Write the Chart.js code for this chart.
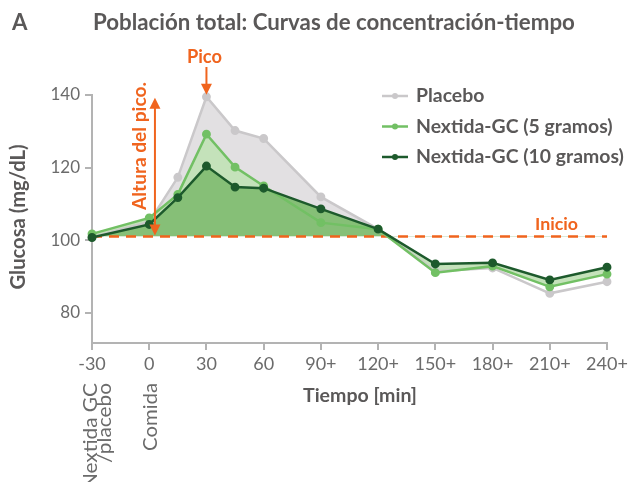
<!DOCTYPE html>
<html>
<head>
<meta charset="utf-8">
<script src="https://cdn.jsdelivr.net/npm/chart.js@4.4.0/dist/chart.umd.min.js"></script>
<style>
  html, body { margin: 0; padding: 0; background: #fff; }
</style>
</head>
<body>
<canvas id="glucosaChart" width="635" height="482"></canvas>
<script>
// === Datos ===
const tiempos = [-30, 0, 15, 30, 45, 60, 90, 120, 150, 180, 210, 240];
const placebo = [100.8, 105.0, 117.3, 139.5, 130.2, 128.0, 111.9, 103.0, 91.4, 92.3, 85.3, 88.5];
const gc5     = [101.7, 106.1, 112.6, 129.2, 120.1, 114.9, 104.8, 103.0, 91.0, 92.8, 87.1, 90.6];
const gc10    = [100.7, 104.3, 111.7, 120.4, 114.6, 114.3, 108.6, 103.0, 93.4, 93.7, 89.0, 92.5];
const xTicks = [-30, 0, 30, 60, 90, 120, 150, 180, 210, 240];
const yTicks = [80, 100, 120, 140];
const inicio = 101;       // linea base "Inicio"
const picoX = 30, picoY = 139.5;
const alturaX = 3;        // flecha "Altura del pico."

const naranja = '#f0641e';
const gris = '#5a5858';
const grisClaro = '#6b6b6b';
const fuente = 'Lato, "Noto Sans", sans-serif';

const toXY = arr => tiempos.map((t, i) => ({ x: t, y: arr[i] }));

// tama√±o de letra para que el texto ocupe un ancho dado
function ajustar(ctx, s, ancho, peso) {
    ctx.font = peso + ' 100px ' + fuente;
    const size = 100 * ancho / ctx.measureText(s).width;
    ctx.font = peso + ' ' + size.toFixed(2) + 'px ' + fuente;
    return size;
}

// texto vertical; estira opcionalmente a lo largo
function girado(ctx, s, x, y, estira) {
    ctx.save();
    ctx.translate(x, y);
    ctx.rotate(-Math.PI / 2);
    if (estira) ctx.scale(estira, 1);
    ctx.fillText(s, 0, 0);
    ctx.restore();
}

// === Leyenda, titulos y anotaciones ===
const anotaciones = {
    id: 'anotaciones',
    beforeDatasetsDraw(chart) {
        const { ctx, scales: { x, y } } = chart;
        const yb = y.getPixelForValue(inicio);
        ctx.save();
        ctx.strokeStyle = naranja;
        ctx.lineWidth = 2.5;
        ctx.setLineDash([10, 7]);
        ctx.beginPath();
        ctx.moveTo(x.left, yb);
        ctx.lineTo(x.right, yb);
        ctx.stroke();
        ctx.restore();
    },
    afterDraw(chart) {
        const { ctx, scales: { x, y } } = chart;
        ctx.save();
        ctx.textBaseline = 'middle';

        // titulo
        ctx.fillStyle = gris;
        ctx.textAlign = 'left';
        ajustar(ctx, 'Población total: Curvas de concentración-tiempo', 482, 'bold');
        ctx.fillText('A', 12, 23);
        ctx.fillText('Población total: Curvas de concentración-tiempo', 93, 23);

        // leyenda
        const items = [
            ['Placebo', '#cac8ca'],
            ['Nextida-GC (5 gramos)', '#72c064'],
            ['Nextida-GC (10 gramos)', '#1d5a2c']
        ];
        ajustar(ctx, items[2][0], 208, 'bold');
        items.forEach((it, i) => {
            const ly = 96 + i * 30.5;
            ctx.strokeStyle = it[1];
            ctx.fillStyle = it[1];
            ctx.lineWidth = 2.5;
            ctx.beginPath();
            ctx.moveTo(382, ly);
            ctx.lineTo(408, ly);
            ctx.stroke();
            ctx.beginPath();
            ctx.arc(395, ly, 3, 0, Math.PI * 2);
            ctx.fill();
            ctx.fillStyle = gris;
            ctx.fillText(it[0], 416, ly);
        });

        // Pico
        const px = x.getPixelForValue(picoX);
        const py = y.getPixelForValue(picoY);
        ctx.fillStyle = naranja;
        ctx.strokeStyle = naranja;
        ctx.lineWidth = 2;
        ctx.textAlign = 'center';
        ajustar(ctx, 'Pico', 35, 'bold');
        ctx.fillText('Pico', px - 2, 57);
        ctx.beginPath();
        ctx.moveTo(px, 67);
        ctx.lineTo(px, py - 12);
        ctx.stroke();
        ctx.beginPath();
        ctx.moveTo(px - 5.5, py - 13);
        ctx.lineTo(px + 5.5, py - 13);
        ctx.lineTo(px, py - 2);
        ctx.closePath();
        ctx.fill();

        // Altura del pico
        const ax = x.getPixelForValue(alturaX);
        const aTop = y.getPixelForValue(picoY) + 1;
        const aBot = y.getPixelForValue(inicio) - 1;
        ctx.beginPath();
        ctx.moveTo(ax, aTop + 10);
        ctx.lineTo(ax, aBot - 10);
        ctx.stroke();
        ctx.beginPath();
        ctx.moveTo(ax - 5.5, aTop + 11);
        ctx.lineTo(ax + 5.5, aTop + 11);
        ctx.lineTo(ax, aTop);
        ctx.closePath();
        ctx.fill();
        ctx.beginPath();
        ctx.moveTo(ax - 5.5, aBot - 11);
        ctx.lineTo(ax + 5.5, aBot - 11);
        ctx.lineTo(ax, aBot);
        ctx.closePath();
        ctx.fill();
        ajustar(ctx, 'Altura del pico.', 128, 'bold');
        girado(ctx, 'Altura del pico.', 140, 146);

        // Inicio
        ctx.textAlign = 'right';
        ajustar(ctx, 'Inicio', 43, 'bold');
        ctx.fillText('Inicio', 578, 224);

        // titulos de ejes
        ctx.fillStyle = gris;
        ctx.textAlign = 'center';
        ajustar(ctx, 'Tiempo [min]', 114, 'bold');
        ctx.fillText('Tiempo [min]', 360, 396);
        ajustar(ctx, 'Glucosa (mg/dL)', 145, 'bold');
        girado(ctx, 'Glucosa (mg/dL)', 18, 217);

        // etiquetas giradas bajo el eje
        ctx.fillStyle = grisClaro;
        ctx.textAlign = 'right';
        ctx.textBaseline = 'alphabetic';
        ctx.font = '18.5px ' + fuente;
        const ePlacebo = 80 / ctx.measureText('/placebo').width;
        const eComida = 68 / ctx.measureText('Comida').width;
        girado(ctx, 'Nextida GC', 96.5, 383, ePlacebo);
        girado(ctx, '/placebo', 111, 383, ePlacebo);
        girado(ctx, 'Comida', 156.5, 383, eComida);

        ctx.restore();
    }
};

const ctx = document.getElementById('glucosaChart').getContext('2d');

const glucosaChart = new Chart(ctx, {
    type: 'line',
    data: {
        datasets: [
            {
                label: 'Placebo',
                data: toXY(placebo),
                borderColor: '#cac8ca',
                backgroundColor: '#cac8ca',
                borderWidth: 2.5,
                pointRadius: 3.2,
                fill: { target: { value: inicio }, above: '#e2e0e2', below: 'rgba(0,0,0,0)' },
                order: 3
            },
            {
                label: 'Nextida-GC (5 gramos)',
                data: toXY(gc5),
                borderColor: '#72c064',
                backgroundColor: '#72c064',
                borderWidth: 2.5,
                pointRadius: 3.2,
                fill: { target: 2, above: '#c4e2ba', below: '#c4e2ba' },
                order: 2
            },
            {
                label: 'Nextida-GC (10 gramos)',
                data: toXY(gc10),
                borderColor: '#1d5a2c',
                backgroundColor: '#1d5a2c',
                borderWidth: 2.5,
                pointRadius: 3.2,
                fill: { target: { value: inicio }, above: '#86bf77', below: 'rgba(0,0,0,0)' },
                order: 1
            }
        ]
    },
    options: {
        responsive: false,
        animation: false,
        layout: { padding: { left: 0, right: 28, top: 95, bottom: 0 } },
        plugins: {
            legend: { display: false },
            tooltip: { enabled: false },
            filler: { drawTime: 'beforeDatasetsDraw' }
        },
        elements: { line: { tension: 0 } },
        clip: false,
        scales: {
            x: {
                type: 'linear',
                min: -30,
                max: 240,
                afterBuildTicks: s => { s.ticks = xTicks.map(v => ({ value: v })); },
                afterFit: s => { s.height = 139; },
                ticks: {
                    callback: v => v >= 90 ? v + '+' : String(v),
                    color: grisClaro,
                    font: { family: fuente, size: 18 },
                    padding: 3,
                    maxRotation: 0,
                    autoSkip: false
                },
                grid: { drawOnChartArea: false, tickLength: 7, color: '#b3b3b3', lineWidth: 2 },
                border: { color: '#b3b3b3', width: 2 }
            },
            y: {
                min: 71.6,
                max: 140,
                afterBuildTicks: s => { s.ticks = yTicks.map(v => ({ value: v })); },
                afterFit: s => { s.width = 92; },
                ticks: {
                    color: grisClaro,
                    font: { family: fuente, size: 17 },
                    padding: 5
                },
                grid: { drawOnChartArea: false, tickLength: 7, color: '#b3b3b3', lineWidth: 2 },
                border: { color: '#b3b3b3', width: 2 }
            }
        }
    },
    plugins: [anotaciones]
});
</script>
</body>
</html>
